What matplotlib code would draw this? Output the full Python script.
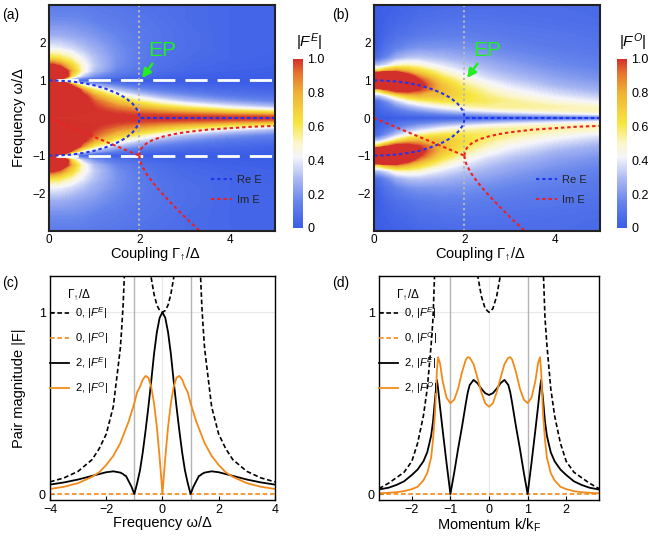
import numpy as np
import matplotlib
matplotlib.use("Agg")
import matplotlib.pyplot as plt
from matplotlib.colors import LinearSegmentedColormap, Normalize
from matplotlib.cm import ScalarMappable

plt.rcParams['font.family'] = ['Liberation Sans', 'DejaVu Sans']
plt.rcParams['mathtext.fontset'] = 'custom'
plt.rcParams['mathtext.rm'] = 'Liberation Sans'
plt.rcParams['mathtext.it'] = 'Liberation Sans:italic'
plt.rcParams['mathtext.bf'] = 'Liberation Sans:bold'

# ---------------- heatmap data (upper half, maps are mirror symmetric in omega) ----------------
coupling = [0, 0.1, 0.25, 0.5, 0.75, 1.0, 1.5, 2.0, 2.5, 3.0, 4.0, 5.0]
omega_half = [0, 0.05, 0.1, 0.2, 0.3, 0.45, 0.6, 0.75, 0.88, 0.96, 1.0,
              1.04, 1.12, 1.25, 1.4, 1.6, 1.85, 2.2, 2.6, 3.0]

# |F^E| (values above 1 saturate the colour scale)
fe_half = [
    [1.00, 1.00, 1.00, 1.00, 1.00, 1.00, 1.00, 1.00, 1.00, 1.00, 1.00, 1.00],
    [1.00, 1.00, 1.00, 1.00, 1.00, 1.00, 1.00, 0.99, 0.99, 0.98, 0.96, 0.94],
    [1.01, 1.01, 1.01, 1.01, 1.00, 1.00, 0.99, 0.97, 0.95, 0.93, 0.87, 0.80],
    [1.04, 1.04, 1.04, 1.03, 1.02, 1.00, 0.95, 0.89, 0.82, 0.75, 0.61, 0.50],
    [1.10, 1.10, 1.09, 1.07, 1.04, 0.99, 0.88, 0.77, 0.65, 0.56, 0.40, 0.30],
    [1.25, 1.25, 1.23, 1.16, 1.06, 0.95, 0.73, 0.55, 0.42, 0.32, 0.21, 0.14],
    [1.56, 1.55, 1.48, 1.28, 1.05, 0.83, 0.52, 0.35, 0.24, 0.18, 0.10, 0.07],
    [2.29, 2.22, 1.93, 1.32, 0.86, 0.58, 0.30, 0.18, 0.12, 0.08, 0.05, 0.03],
    [3.00, 3.00, 2.27, 0.92, 0.46, 0.27, 0.13, 0.07, 0.05, 0.03, 0.02, 0.01],
    [3.00, 3.00, 1.23, 0.33, 0.15, 0.08, 0.04, 0.02, 0.01, 0.01, 0.01, 0.00],
    [0.00, 0.00, 0.00, 0.00, 0.00, 0.00, 0.00, 0.00, 0.00, 0.00, 0.00, 0.00],
    [3.00, 3.00, 1.10, 0.29, 0.13, 0.08, 0.03, 0.02, 0.01, 0.01, 0.00, 0.00],
    [3.00, 3.00, 1.78, 0.67, 0.33, 0.19, 0.09, 0.05, 0.03, 0.02, 0.01, 0.01],
    [1.78, 1.69, 1.36, 0.80, 0.47, 0.30, 0.15, 0.09, 0.06, 0.04, 0.02, 0.01],
    [1.04, 1.02, 0.92, 0.68, 0.47, 0.33, 0.18, 0.11, 0.07, 0.05, 0.03, 0.02],
    [0.64, 0.63, 0.60, 0.51, 0.40, 0.31, 0.19, 0.12, 0.08, 0.06, 0.04, 0.02],
    [0.41, 0.41, 0.40, 0.36, 0.31, 0.26, 0.18, 0.12, 0.09, 0.07, 0.04, 0.03],
    [0.26, 0.26, 0.26, 0.24, 0.22, 0.20, 0.15, 0.11, 0.09, 0.07, 0.04, 0.03],
    [0.17, 0.17, 0.17, 0.17, 0.16, 0.14, 0.12, 0.10, 0.08, 0.06, 0.04, 0.03],
    [0.13, 0.12, 0.12, 0.12, 0.12, 0.11, 0.10, 0.08, 0.07, 0.06, 0.04, 0.03],
]

# |F^O|
fo_half = [
    [0.00, 0.00, 0.00, 0.00, 0.00, 0.00, 0.00, 0.00, 0.00, 0.00, 0.00, 0.00],
    [0.00, 0.01, 0.01, 0.03, 0.04, 0.05, 0.08, 0.10, 0.12, 0.15, 0.19, 0.24],
    [0.00, 0.01, 0.03, 0.05, 0.08, 0.10, 0.15, 0.20, 0.24, 0.28, 0.35, 0.41],
    [0.00, 0.02, 0.05, 0.11, 0.16, 0.21, 0.30, 0.37, 0.43, 0.47, 0.51, 0.52],
    [0.00, 0.04, 0.09, 0.18, 0.26, 0.33, 0.44, 0.51, 0.54, 0.55, 0.53, 0.49],
    [0.05, 0.07, 0.17, 0.33, 0.45, 0.54, 0.62, 0.62, 0.59, 0.55, 0.46, 0.39],
    [0.30, 0.30, 0.40, 0.60, 0.74, 0.78, 0.74, 0.65, 0.56, 0.49, 0.39, 0.32],
    [0.65, 0.70, 0.90, 1.13, 1.11, 0.99, 0.77, 0.61, 0.51, 0.43, 0.33, 0.26],
    [1.50, 1.60, 2.22, 1.80, 1.36, 1.07, 0.74, 0.56, 0.45, 0.38, 0.28, 0.23],
    [3.00, 3.00, 3.00, 2.03, 1.37, 1.03, 0.69, 0.52, 0.42, 0.35, 0.26, 0.21],
    [3.00, 3.00, 3.00, 2.00, 1.33, 1.00, 0.67, 0.50, 0.40, 0.33, 0.25, 0.20],
    [3.00, 3.00, 3.00, 1.88, 1.27, 0.96, 0.64, 0.48, 0.38, 0.32, 0.24, 0.19],
    [1.80, 1.80, 1.96, 1.48, 1.09, 0.85, 0.58, 0.44, 0.35, 0.30, 0.22, 0.18],
    [0.65, 0.65, 0.80, 0.88, 0.78, 0.67, 0.49, 0.38, 0.31, 0.26, 0.20, 0.16],
    [0.30, 0.30, 0.36, 0.50, 0.52, 0.49, 0.39, 0.32, 0.27, 0.23, 0.17, 0.14],
    [0.05, 0.08, 0.15, 0.26, 0.31, 0.32, 0.29, 0.25, 0.22, 0.19, 0.15, 0.12],
    [0.00, 0.03, 0.08, 0.14, 0.18, 0.20, 0.20, 0.19, 0.17, 0.15, 0.12, 0.10],
    [0.00, 0.01, 0.04, 0.07, 0.09, 0.11, 0.13, 0.13, 0.12, 0.11, 0.10, 0.08],
    [0.00, 0.01, 0.02, 0.04, 0.05, 0.07, 0.08, 0.09, 0.09, 0.08, 0.07, 0.06],
    [0.00, 0.00, 0.01, 0.02, 0.03, 0.04, 0.05, 0.06, 0.06, 0.06, 0.06, 0.05],
]

# eigenvalue branches
re_coupling = [0, 0.25, 0.5, 0.75, 1.0, 1.25, 1.5, 1.7, 1.85, 1.95, 1.99, 2.0, 5.0]
re_energy = [1.0, 0.99, 0.97, 0.93, 0.87, 0.78, 0.66, 0.53, 0.38, 0.22, 0.10, 0.0, 0.0]
im_coupling_a = [0, 1.0, 2.0]
im_energy_a = [0, -0.5, -1.0]
im_coupling_b = [2.0, 2.01, 2.05, 2.15, 2.3, 2.5, 2.75, 3.0, 3.5, 4.0, 4.5, 5.0]
im_energy_up = [-1.0, -0.9, -0.80, -0.68, -0.58, -0.5, -0.43, -0.38, -0.31, -0.27, -0.23, -0.21]
im_coupling_c = [2.0, 2.01, 2.05, 2.15, 2.3, 2.5, 2.75, 3.0, 3.3, 3.4]
im_energy_low = [-1.0, -1.1, -1.25, -1.47, -1.72, -2.0, -2.32, -2.62, -2.96, -3.08]

# ---------------- panel (c): vs frequency (omega >= 0, symmetric) ----------------
omega_c = [0, 0.1, 0.2, 0.3, 0.4, 0.5, 0.6, 0.7, 0.8, 0.9, 1.0, 1.1, 1.2, 1.3, 1.35,
           1.4, 1.45, 1.5, 1.75, 2.0, 2.25, 2.5, 3.0, 3.5, 4.0]
fe0_c = [1.0, 1.01, 1.04, 1.10, 1.19, 1.33, 1.56, 1.96, 2.78, 5.26, np.nan, 4.76, 2.27, 1.45, 1.22,
         1.04, 0.91, 0.80, 0.48, 0.33, 0.25, 0.19, 0.125, 0.089, 0.067]
fo0_c = [0.0] * len(omega_c)
fe2_c = [1.0, 0.97, 0.89, 0.77, 0.62, 0.48, 0.35, 0.23, 0.13, 0.06, 0.0, 0.04, 0.07, 0.10, 0.103,
         0.11, 0.114, 0.118, 0.125, 0.12, 0.11, 0.10, 0.08, 0.064, 0.052]
fo2_c = [0.0, 0.20, 0.37, 0.50, 0.59, 0.64, 0.65, 0.63, 0.59, 0.56, 0.50, 0.45, 0.40, 0.36, 0.34,
         0.32, 0.30, 0.28, 0.21, 0.16, 0.12, 0.095, 0.06, 0.04, 0.028]

# ---------------- panel (d): vs momentum (k >= 0, symmetric) ----------------
k_d = [0, 0.1, 0.2, 0.3, 0.4, 0.5, 0.55, 0.6, 0.7, 0.8, 0.9, 1.0, 1.1, 1.2, 1.27, 1.32,
       1.35, 1.4, 1.45, 1.5, 1.6, 1.7, 1.85, 2.0, 2.2, 2.4, 2.6, 2.85]
fe0_d = [1.0, 1.02, 1.09, 1.21, 1.45] + [np.nan] * 11 + \
        [1.6, 1.27, 0.97, 0.82, 0.58, 0.43, 0.28, 0.18, 0.12, 0.09, 0.06, 0.03]
fo0_d = [0.0] * len(k_d)
fe2_d = [0.545, 0.555, 0.58, 0.61, 0.628, 0.60, 0.56, 0.50, 0.37, 0.25, 0.12, 0.0, 0.17, 0.35,
         0.48, 0.58, 0.628, 0.52, 0.40, 0.32, 0.23, 0.18, 0.135, 0.105, 0.07, 0.05, 0.035, 0.025]
fo2_d = [0.48, 0.50, 0.56, 0.64, 0.715, 0.75, 0.753, 0.74, 0.67, 0.58, 0.52, 0.50, 0.53, 0.62,
         0.72, 0.753, 0.68, 0.44, 0.30, 0.20, 0.115, 0.075, 0.04, 0.027, 0.016, 0.01, 0.007, 0.004]

# colours
BLACK = 'black'
ORANGE = '#f28a1a'
GREEN = '#22ee22'

cmap = LinearSegmentedColormap.from_list('fmap', [
    (0.0, '#3b5de7'), (0.15, '#6583eb'), (0.3, '#b0bdf3'), (0.42, '#f5f5fb'),
    (0.5, '#fbf6cc'), (0.62, '#f7e540'), (0.8, '#efb236'), (0.92, '#e4722e'),
    (1.0, '#d3302c')])
cmap.set_over('#d3302c')

GAMMA_UP = r'Γ$_{\mathregular{↑}}$/Δ'


def mirror_grid(half):
    arr = np.array(half, dtype=float)
    return np.vstack([arr[:0:-1], arr])


def mirror_line(x, y):
    x = np.array(x, dtype=float)
    y = np.array(y, dtype=float)
    return np.concatenate([-x[:0:-1], x]), np.concatenate([y[:0:-1], y])


omega_full = np.concatenate([-np.array(omega_half)[:0:-1], omega_half])
G, W = np.meshgrid(coupling, omega_full)

fig = plt.figure(figsize=(6.48, 5.4), dpi=100)

ax_a = fig.add_axes([0.0756, 0.5722, 0.3488, 0.4185])
ax_b = fig.add_axes([0.5772, 0.5722, 0.3488, 0.4185])
cax_a = fig.add_axes([0.4522, 0.5778, 0.0154, 0.313])
cax_b = fig.add_axes([0.9522, 0.5778, 0.0154, 0.313])
ax_c = fig.add_axes([0.0772, 0.074, 0.347, 0.415])
ax_d = fig.add_axes([0.5849, 0.074, 0.3395, 0.415])

levels = np.linspace(0, 1, 101)
for ax, data, cax, clabel in [(ax_a, fe_half, cax_a, r'$|F^E|$'),
                              (ax_b, fo_half, cax_b, r'$|F^O|$')]:
    ax.contourf(G, W, mirror_grid(data), levels=levels, cmap=cmap, extend='max')
    ax.set_xlim(0, 5)
    ax.set_ylim(-3, 3)
    ax.set_xticks([0, 2, 4])
    ax.set_yticks([-2, -1, 0, 1, 2])
    ax.tick_params(length=0, labelsize=8.5, pad=2.5)
    for sp in ax.spines.values():
        sp.set_linewidth(1.5)
        sp.set_color('#222222')
    ax.set_xlabel('Coupling ' + GAMMA_UP, fontsize=10.5)
    ax.xaxis.set_label_coords(0.47, -0.062)

    if ax is ax_a:
        ax.axhline(1, color='white', lw=2, dashes=(8, 3.6), xmin=0.03)
        ax.axhline(-1, color='white', lw=2, dashes=(8, 3.6), xmin=0.03)
    ax.axvline(2, color='#b8b8b8', lw=1.5, ls=(0, (1, 1.5)))

    ax.plot(re_coupling, re_energy, color='#2035f0', lw=1.5, dashes=(1.6, 1.4), label='Re E')
    ax.plot(re_coupling, -np.array(re_energy), color='#2035f0', lw=1.5, dashes=(1.6, 1.4))
    ax.plot(im_coupling_a, im_energy_a, color='#ee2020', lw=1.5, dashes=(1.6, 1.4), label='Im E')
    ax.plot(im_coupling_b, im_energy_up, color='#ee2020', lw=1.5, dashes=(1.6, 1.4))
    ax.plot(im_coupling_c, im_energy_low, color='#ee2020', lw=1.5, dashes=(1.6, 1.4))

    leg = ax.legend(loc='upper left', bbox_to_anchor=(0.715, 0.25), frameon=False,
                    fontsize=8, handlelength=1.9, handletextpad=0.5, labelspacing=0.9,
                    borderpad=0, borderaxespad=0)
    for t in leg.get_texts():
        t.set_color('#222222')

    ax.annotate('EP', xy=(2.06, 1.06), xytext=(2.5, 1.8), color=GREEN, fontsize=15,
                ha='center', va='center',
                arrowprops=dict(arrowstyle='-|>', color=GREEN, lw=1.8, shrinkA=1, shrinkB=0,
                                mutation_scale=13))

    cb = fig.colorbar(ScalarMappable(norm=Normalize(0, 1), cmap=cmap), cax=cax)
    cb.set_ticks([0, 0.2, 0.4, 0.6, 0.8, 1.0])
    cb.set_ticklabels(['0', '0.2', '0.4', '0.6', '0.8', '1.0'])
    cb.ax.tick_params(length=0, labelsize=9, pad=3)
    cb.outline.set_visible(False)
    pos = cax.get_position()
    fig.text(pos.x0 + 0.025, 0.922, clabel, fontsize=11, ha='center', va='center')

ax_a.set_ylabel('Frequency ω/Δ', fontsize=10.5)
ax_a.yaxis.set_label_coords(-0.1, 0.5)

# ---------------- line panels ----------------
line_sets = [
    (ax_c, omega_c, fe0_c, fo0_c, fe2_c, fo2_c),
    (ax_d, k_d, fe0_d, fo0_d, fe2_d, fo2_d),
]
for ax, xs, fe0, fo0, fe2, fo2 in line_sets:
    ax.axvline(0, color='#e8e8e8', lw=0.8, zorder=0)
    ax.axhline(1, color='#e8e8e8', lw=0.8, zorder=0)
    for xv in (-1, 1):
        ax.axvline(xv, color='#b4b4b4', lw=1.0, zorder=0)

    x, y = mirror_line(xs, fe0)
    l1, = ax.plot(x, y, color=BLACK, lw=1.2, dashes=(2.8, 1.6))
    x, y = mirror_line(xs, fo0)
    l2, = ax.plot(x, y, color=ORANGE, lw=1.2, dashes=(2.8, 1.6))
    x, y = mirror_line(xs, fe2)
    l3, = ax.plot(x, y, color=BLACK, lw=1.3)
    x, y = mirror_line(xs, fo2)
    l4, = ax.plot(x, y, color=ORANGE, lw=1.3)

    ax.set_ylim(-0.033, 1.2)
    ax.set_yticks([0, 1])
    ax.tick_params(direction='in', length=3, labelsize=9, pad=3)
    for sp in ax.spines.values():
        sp.set_linewidth(1.0)

    ax.legend([l1, l2, l3, l4],
              [r'0, $|F^E|$', r'0, $|F^O|$', r'2, $|F^E|$', r'2, $|F^O|$'],
              loc='upper left', bbox_to_anchor=(0.0, 0.868), frameon=False, fontsize=8,
              handlelength=1.7, handletextpad=0.55, labelspacing=0.82,
              borderpad=0, borderaxespad=0)
    ax.text(0.075, 0.915, GAMMA_UP, transform=ax.transAxes,
            fontsize=8.5, va='center', ha='left')

ax_c.set_xlim(-4, 4)
ax_c.set_xticks([-4, -2, 0, 2, 4])
ax_c.set_xlabel('Frequency ω/Δ', fontsize=10.5)
ax_c.xaxis.set_label_coords(0.5, -0.072)
ax_c.set_ylabel('Pair magnitude |F|', fontsize=10.5)
ax_c.yaxis.set_label_coords(-0.105, 0.5)

ax_d.set_xlim(-2.85, 2.85)
ax_d.set_xticks([-2, -1, 0, 1, 2])
ax_d.set_xlabel(r'Momentum k/k$_\mathregular{F}$', fontsize=10.5)
ax_d.xaxis.set_label_coords(0.5, -0.072)

# panel labels
for lab, xx, yy in [('(a)', 0.003, 0.972), ('(b)', 0.513, 0.972),
                    ('(c)', 0.003, 0.476), ('(d)', 0.513, 0.476)]:
    fig.text(xx, yy, lab, fontsize=10, va='center', ha='left')

fig.savefig('out.png', dpi=100)
